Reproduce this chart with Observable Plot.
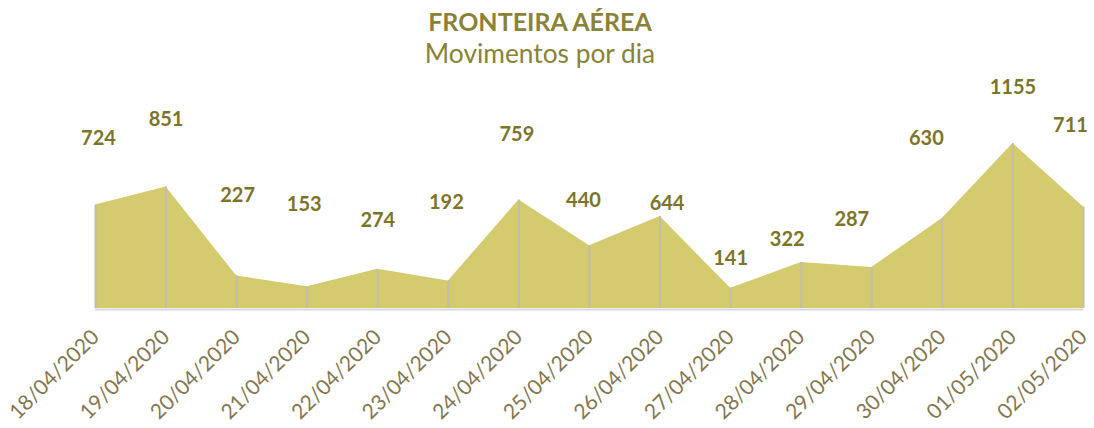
<!DOCTYPE html>
<html><head><meta charset="utf-8">
<script src="https://cdn.jsdelivr.net/npm/d3@7"></script>
<script src="https://cdn.jsdelivr.net/npm/@observablehq/plot@0.6"></script>
<style>
body{margin:0;background:#fff;}
#wrap{position:relative;width:1094px;height:428px;overflow:hidden;font-family:Lato,sans-serif;}
#wrap svg{position:absolute;left:0;top:0;}
.t{position:absolute;left:0;width:1080px;text-align:center;color:#8a8236;white-space:nowrap;line-height:1;}
</style></head><body>
<div id="wrap">
<div class="t" style="top:9px;font-size:25px;font-weight:700;">FRONTEIRA AÉREA</div>
<div class="t" style="top:40px;font-size:26.3px;font-weight:400;">Movimentos por dia</div>
</div>
<script>
const dates = ["18/04/2020","19/04/2020","20/04/2020","21/04/2020","22/04/2020","23/04/2020","24/04/2020","25/04/2020","26/04/2020","27/04/2020","28/04/2020","29/04/2020","30/04/2020","01/05/2020","02/05/2020"];
const movimentos = [724, 851, 227, 153, 274, 192, 759, 440, 644, 141, 322, 287, 630, 1155, 711];

// label placement offsets (px) as in the original chart
const labelDx = [3, 0, 1, -3, 0, -2, -2, -6, 7, 0, -14, -20, -16, 0, -13];
const labelDy = [-66, -67, -80, -82, -49, -78, -65, -45, -13, -30, -23, -48, -80, -56, -81];

const data = dates.map((d, i) => ({date: d, value: movimentos[i]}));

const chart = Plot.plot({
  width: 1094,
  height: 428,
  marginLeft: 95,
  marginRight: 11,
  marginTop: 108,
  marginBottom: 120,
  style: {fontFamily: "Lato, sans-serif", background: "transparent"},
  x: {type: "point", domain: dates, padding: 0, round: false, axis: null},
  y: {domain: [0, 1400], axis: null},
  marks: [
    Plot.areaY(data, {x: "date", y: "value", fill: "#d3cb6d"}),
    Plot.ruleX(data, {x: "date", y1: 0, y2: "value", stroke: "#c3bda9", strokeWidth: 2}),
    Plot.ruleY([0], {stroke: "#d9d9d9", strokeWidth: 2, dy: 1}),
    Plot.axisX({tickRotate: -45, tickSize: 0, tickPadding: 25, fontSize: 21, color: "#84764f", label: null}),
    ...data.map((d, i) => Plot.text([d], {x: "date", y: "value", text: d => String(d.value), dx: labelDx[i], dy: labelDy[i], fill: "#7b7429", fontSize: 20, fontWeight: "bold"}))
  ]
});
document.getElementById("wrap").prepend(chart);
</script>
</body></html>
